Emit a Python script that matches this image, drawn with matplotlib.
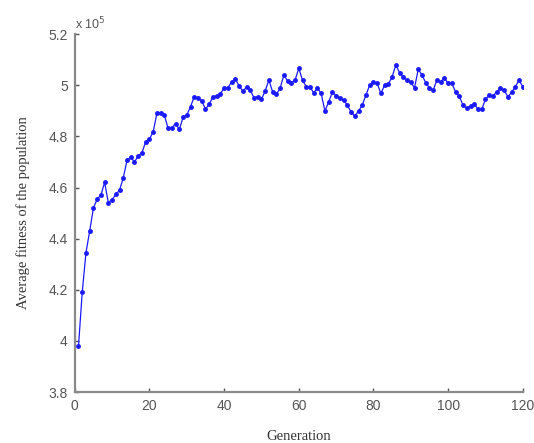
import matplotlib
matplotlib.use("Agg")
import matplotlib.pyplot as plt
import matplotlib.ticker as ticker
import numpy as np

# ---------------------------------------------------------------------------
# Data: average fitness per generation (in units of 1e5)
# ---------------------------------------------------------------------------
SCALE = 1e5
generations = np.arange(1, 121)
fitness = [
    3.98, 4.19, 4.345, 4.43, 4.52, 4.555, 4.57, 4.62, 4.54, 4.553,
    4.573, 4.59, 4.638, 4.707, 4.718, 4.70, 4.724, 4.736, 4.779, 4.789,
    4.818, 4.89, 4.892, 4.883, 4.831, 4.834, 4.85, 4.827, 4.874, 4.883,
    4.916, 4.955, 4.952, 4.939, 4.907, 4.925, 4.955, 4.958, 4.966, 4.99,
    4.99, 5.013, 5.026, 4.997, 4.978, 4.992, 4.981, 4.951, 4.955, 4.945,
    4.978, 5.02, 4.974, 4.965, 4.988, 5.04, 5.017, 5.01, 5.02, 5.066,
    5.02, 4.994, 4.992, 4.971, 4.988, 4.968, 4.899, 4.935, 4.972, 4.959,
    4.949, 4.942, 4.922, 4.896, 4.879, 4.899, 4.922, 4.962, 5.001, 5.013,
    5.007, 4.968, 5.001, 5.005, 5.033, 5.079, 5.049, 5.033, 5.02, 5.011,
    4.99, 5.062, 5.04, 5.01, 4.99, 4.981, 5.02, 5.013, 5.029, 5.007,
    5.007, 4.974, 4.956, 4.922, 4.91, 4.919, 4.927, 4.906, 4.906, 4.945,
    4.962, 4.958, 4.974, 4.988, 4.981, 4.955, 4.972, 4.994, 5.02, 4.994,
]
x_ticks = [0, 20, 40, 60, 80, 100, 120]
y_ticks = [3.8, 4.0, 4.2, 4.4, 4.6, 4.8, 5.0, 5.2]

# ---------------------------------------------------------------------------
# Plot
# ---------------------------------------------------------------------------
fig = plt.figure(figsize=(5.34, 4.43), dpi=100)
ax = fig.add_axes([0.140, 0.115, 0.839, 0.808])

ax.plot(generations, np.array(fitness) * SCALE, color="#1a1aff", lw=0.9,
        marker=".", markersize=5)

ax.set_xlim(0, 120)
ax.set_ylim(3.8 * SCALE, 5.2 * SCALE)
ax.set_xticks(x_ticks)
ax.set_yticks([v * SCALE for v in y_ticks])
ax.yaxis.set_major_formatter(ticker.FuncFormatter(lambda v, _: f"{v / SCALE:g}"))

for side in ("top", "right"):
    ax.spines[side].set_visible(False)
for side in ("left", "bottom"):
    ax.spines[side].set_color("#8a8a8a")
    ax.spines[side].set_linewidth(1.6)

ax.tick_params(direction="in", length=3, width=1, color="#555555",
               labelcolor="#555555", labelsize=10, pad=5)
for lbl in ax.get_xticklabels() + ax.get_yticklabels():
    lbl.set_family("Liberation Sans")

ax.text(0.0, 1.005, r"x 10$^{5}$", transform=ax.transAxes, ha="left", va="bottom",
        fontsize=9, color="#555555", family="Liberation Sans")

ax.set_xlabel("Generation", family="Liberation Serif", fontsize=10.5, color="#333333",
              labelpad=12)
ax.set_ylabel("Average fitness of the population", family="Liberation Serif",
              fontsize=10.5, color="#333333", labelpad=13)

fig.savefig("out.png", dpi=100)
